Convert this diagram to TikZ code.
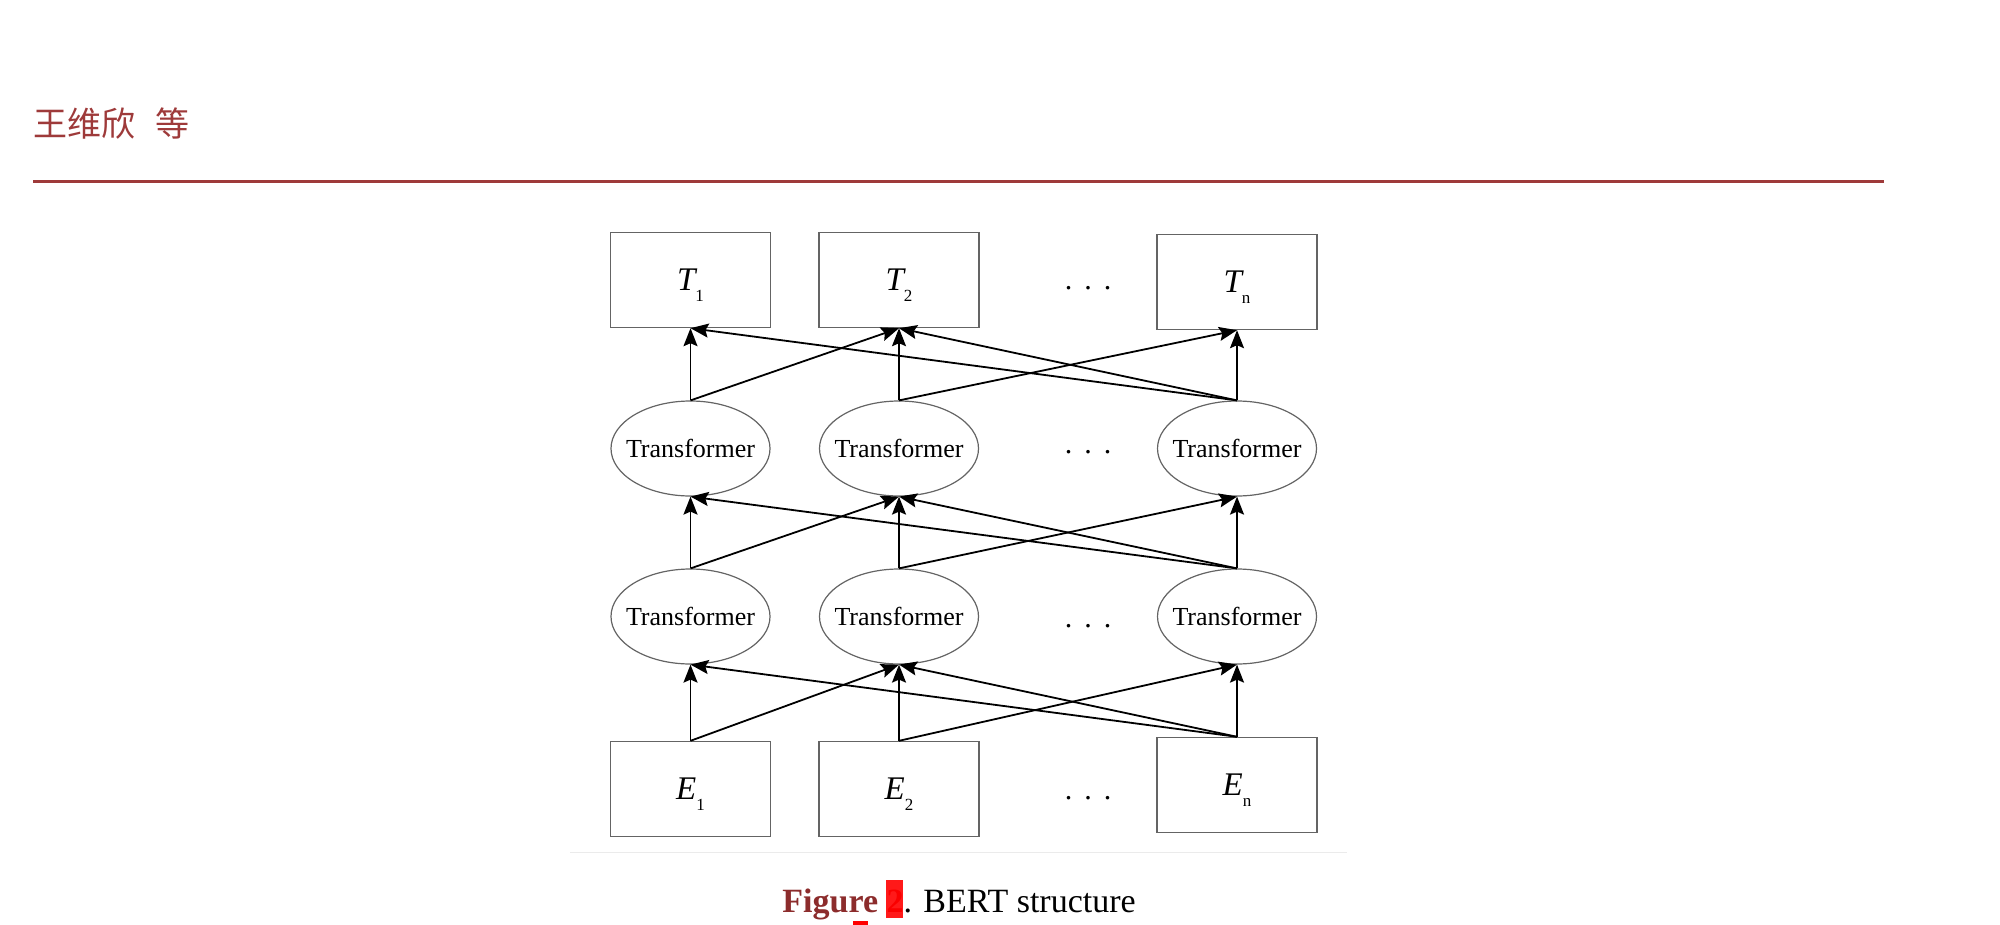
\documentclass[tikz,border=0pt]{standalone}
\usepackage{fontspec}
\setmainfont{Liberation Serif}
\newfontfamily\cjk{Noto Sans CJK SC}
\usetikzlibrary{shapes.geometric,arrows.meta}
\definecolor{headred}{RGB}{158,58,58}
\definecolor{figred}{RGB}{140,44,44}
\definecolor{boxgray}{RGB}{100,100,100}

\newcommand{\tokn}[2]{{\itshape #1}\raisebox{-5.5pt}{\fontsize{8.5}{8.5}\selectfont #2}}
\newcommand{\tfname}{\makebox[0pt]{Transformer}}
\newcommand{\gapdots}{.\hspace{6pt}.\hspace{6pt}.}

\begin{document}
\begin{tikzpicture}[x=0.5pt,y=-0.5pt,
        tokbox/.style={draw=boxgray, line width=0.7pt, minimum width=80pt, minimum height=47.5pt, inner sep=0pt, text depth=0pt, font=\fontsize{16.5}{16.5}\selectfont},
        tfnode/.style={ellipse, draw=boxgray, line width=0.6pt, minimum width=79.5pt, minimum height=47.5pt, inner sep=0pt, font=\fontsize{13}{13}\selectfont},
        flow/.style={-{Stealth[length=9pt,width=7pt,inset=1.5pt]}, line width=0.9pt},
        gap/.style={inner sep=0pt, font=\fontsize{15}{15}\selectfont}]
    \useasboundingbox (0,0) rectangle (2000,925);

    \node[anchor=base west, inner sep=0pt, text=headred, font=\cjk\fontsize{17}{17}\selectfont] (author) at (33,137) {王维欣\hspace{10pt}等};
    \draw[headred, line width=1.5pt] (33,182) -- (1884,182);

    \node[tokbox] (t1) at (690.5,280) {\tokn{T}{1}};
    \node[tokbox] (t2) at (899,280)   {\tokn{T}{2}};
    \node[tokbox] (t3) at (1237,282)  {\tokn{T}{n}};
    \node[gap] (tdots) at (1088,288) {\gapdots};

    \node[tfnode] (a1) at (690.5,448.5) {\tfname};
    \node[tfnode] (a2) at (899,448.5)   {\tfname};
    \node[tfnode] (a3) at (1237,448.5)  {\tfname};
    \node[gap] (adots) at (1088,452) {\gapdots};

    \node[tfnode] (b1) at (690.5,616.5) {\tfname};
    \node[tfnode] (b2) at (899,616.5)   {\tfname};
    \node[tfnode] (b3) at (1237,616.5)  {\tfname};
    \node[gap] (bdots) at (1088,626) {\gapdots};

    \node[tokbox] (e1) at (690.5,789) {\tokn{E}{1}};
    \node[tokbox] (e2) at (899,789)   {\tokn{E}{2}};
    \node[tokbox] (e3) at (1237,785)  {\tokn{E}{n}};
    \node[gap] (edots) at (1088,798) {\gapdots};

    \foreach \lo/\up in {e/b, b/a, a/t} {
        \draw[flow] (\lo1.north) -- (\up1.south);
        \draw[flow] (\lo1.north) -- (\up2.south);
        \draw[flow] (\lo2.north) -- (\up2.south);
        \draw[flow] (\lo2.north) -- (\up3.south);
        \draw[flow] (\lo3.north) -- (\up1.south);
        \draw[flow] (\lo3.north) -- (\up2.south);
        \draw[flow] (\lo3.north) -- (\up3.south);
    }

    \draw[black!8, line width=0.5pt] (570,852.5) -- (1347,852.5);

    \node[anchor=base west, inner sep=0pt, font=\fontsize{17}{17}\selectfont] (caption) at (782,912)
        {\textcolor{figred}{\bfseries Figure \textcolor{red!80!black}{2}}. BERT structure};
    \fill[red, opacity=0.9] (886,880) rectangle (903,918);
    \fill[red] (853,921) rectangle (868,925);
\end{tikzpicture}
\end{document}
